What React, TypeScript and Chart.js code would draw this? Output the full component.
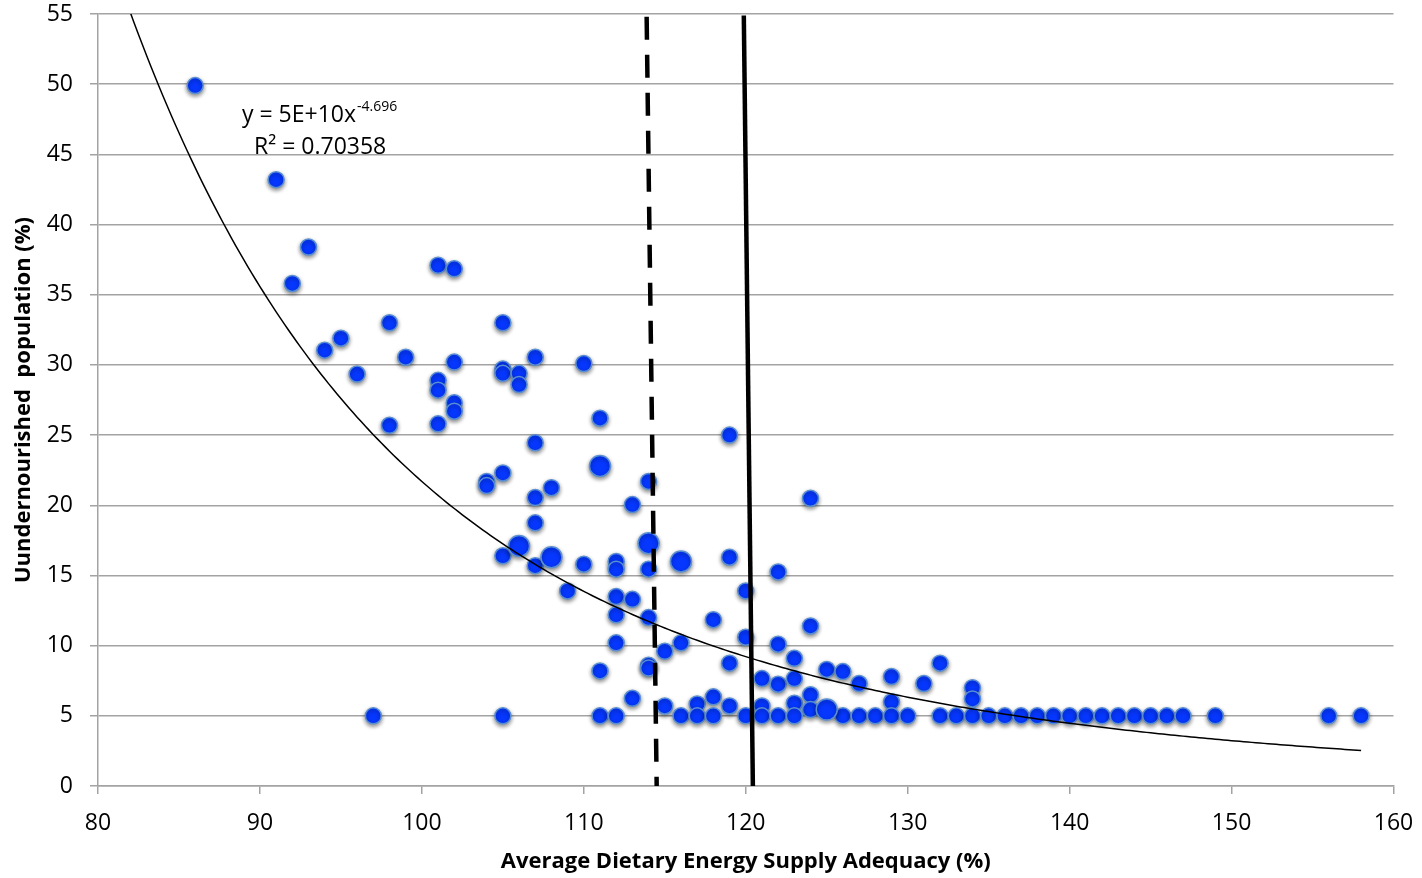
import React, { useEffect, useRef } from "react";
import { Chart, registerables } from "chart.js";

Chart.register(...registerables);

// ---- Data ----
const adequacy = [
  86, 91, 93, 92, 101, 102, 98, 105, 95, 94, 99, 102, 107, 110, 96, 105, 105, 106, 106, 101,
  101, 102, 102, 98, 101, 107, 111, 114, 105, 104, 104, 108, 107, 113, 107, 119, 124, 105, 110, 112,
  112, 114, 119, 122, 107, 109, 112, 113, 120, 112, 114, 118, 124, 112, 120, 116, 122, 115, 123, 119,
  114, 114, 111, 121, 122, 123, 125, 126, 127, 129, 131, 132, 134, 134, 129, 113, 115, 117, 118, 119,
  121, 123, 124, 124,
  97, 105, 111, 112, 116, 117, 118, 120, 121, 122, 123, 126, 127, 128, 129, 130, 132, 133, 134, 135,
  136, 137, 138, 139, 140, 141, 142, 143, 144, 145, 146, 147, 149, 156, 158,
];
const undernourished = [
  49.9, 43.2, 38.4, 35.8, 37.1, 36.85, 33.0, 33.0, 31.9, 31.05, 30.55, 30.2, 30.55, 30.1, 29.35, 29.7, 29.4, 29.4, 28.6, 28.9,
  28.2, 27.3, 26.7, 25.7, 25.8, 24.45, 26.2, 21.7, 22.3, 21.7, 21.4, 21.25, 20.55, 20.05, 18.75, 25.0, 20.5, 16.4, 15.8, 16.0,
  15.45, 15.45, 16.3, 15.25, 15.7, 13.9, 13.5, 13.3, 13.9, 12.2, 12.0, 11.85, 11.4, 10.2, 10.6, 10.2, 10.1, 9.6, 9.1, 8.75,
  8.6, 8.4, 8.2, 7.65, 7.25, 7.65, 8.3, 8.15, 7.3, 7.8, 7.3, 8.75, 7.0, 6.2, 6.0, 6.25, 5.7, 5.85, 6.35, 5.7,
  5.7, 5.9, 6.5, 5.45,
  5, 5, 5, 5, 5, 5, 5, 5, 5, 5, 5, 5, 5, 5, 5, 5, 5, 5, 5, 5,
  5, 5, 5, 5, 5, 5, 5, 5, 5, 5, 5, 5, 5, 5, 5,
];
// points where several countries coincide (drawn as larger markers)
const stackedAdequacy = [111, 114, 106, 108, 116, 125];
const stackedUndernourished = [22.8, 17.3, 17.1, 16.3, 16.0, 5.45];

// power trend line y = a * x^b
const TREND_A = 5.35e10;
const TREND_B = -4.696;
const TREND_X_START = 81.5;
const TREND_X_END = 158;

// threshold lines (two end points each)
const dashedLineX = [113.88, 114.5];
const dashedLineY = [54.8, 0];
const solidLineX = [119.88, 120.44];
const solidLineY = [54.9, 0];

const xTicks = { min: 80, max: 160, step: 10 };
const yTicks = { min: 0, max: 55, step: 5 };

const EQ_MAIN = "y = 5E+10x";
const EQ_EXP = "-4.696";
const R2_TEXT = "R² = 0.70358";
const X_TITLE = "Average Dietary Energy Supply Adequacy (%)";
const Y_TITLE = "Uundernourished  population (%)";

const FONT = '"Open Sans", "Liberation Sans", sans-serif';

export default function App() {
  const ref = useRef<HTMLCanvasElement>(null);

  useEffect(() => {
    if (!ref.current) return;
    const trend: { x: number; y: number }[] = [];
    for (let x = TREND_X_START; x <= TREND_X_END + 1e-9; x += 0.25) {
      trend.push({ x, y: TREND_A * Math.pow(x, TREND_B) });
    }

    const shadowPlugin = {
      id: "markerShadow",
      beforeDatasetDraw(chart: any, args: any) {
        const ds = chart.data.datasets[args.index];
        if (!ds.shadow) return;
        const ctx = chart.ctx;
        ctx.save();
        ctx.shadowColor = "rgba(0,0,0,0.45)";
        ctx.shadowBlur = 4;
        ctx.shadowOffsetX = 0;
        ctx.shadowOffsetY = 2;
      },
      afterDatasetDraw(chart: any, args: any) {
        const ds = chart.data.datasets[args.index];
        if (!ds.shadow) return;
        chart.ctx.restore();
      },
    };

    const labelPlugin = {
      id: "trendLabel",
      afterDatasetsDraw(chart: any) {
        const { ctx, chartArea } = chart;
        ctx.save();
        ctx.fillStyle = "#000";
        ctx.textBaseline = "alphabetic";
        ctx.textAlign = "left";
        ctx.font = `23px ${FONT}`;
        const x0 = chartArea.left + 144;
        const y0 = chartArea.top + 108;
        ctx.fillText(EQ_MAIN, x0, y0);
        const w = ctx.measureText(EQ_MAIN).width;
        ctx.font = `14px ${FONT}`;
        ctx.fillText(EQ_EXP, x0 + w + 1, y0 - 11);
        ctx.font = `23px ${FONT}`;
        ctx.fillText(R2_TEXT, chartArea.left + 156, chartArea.top + 139.5);
        ctx.restore();
      },
    };

    const pts = adequacy.map((x, i) => ({ x, y: undernourished[i] }));
    const bigPts = stackedAdequacy.map((x, i) => ({ x, y: stackedUndernourished[i] }));

    const chart = new Chart(ref.current, {
      type: "scatter",
      data: {
        datasets: [
          {
            label: "Countries",
            data: pts,
            pointRadius: 8,
            pointHoverRadius: 8,
            pointBackgroundColor: "#0637ff",
            pointBorderColor: "#5a8fd2",
            pointBorderWidth: 1.5,
            order: 4,
            shadow: true,
          } as any,
          {
            label: "Stacked",
            data: bigPts,
            pointRadius: 10.5,
            pointHoverRadius: 10.5,
            pointBackgroundColor: "#0637ff",
            pointBorderColor: "#5a8fd2",
            pointBorderWidth: 1.5,
            order: 3,
            shadow: true,
          } as any,
          {
            label: "Trend",
            data: trend,
            showLine: true,
            pointRadius: 0,
            borderColor: "#000",
            borderWidth: 1.5,
            order: 2,
          },
          {
            label: "Dashed",
            data: dashedLineX.map((x, i) => ({ x, y: dashedLineY[i] })),
            showLine: true,
            pointRadius: 0,
            borderColor: "#000",
            borderWidth: 4.5,
            borderDash: [23, 15],
            order: 1,
          },
          {
            label: "Solid",
            data: solidLineX.map((x, i) => ({ x, y: solidLineY[i] })),
            showLine: true,
            pointRadius: 0,
            borderColor: "#000",
            borderWidth: 4.5,
            order: 1,
          },
        ],
      },
      options: {
        animation: false,
        responsive: true,
        maintainAspectRatio: false,
        layout: { padding: 0 },
        plugins: {
          legend: { display: false },
          tooltip: { enabled: false },
        },
        scales: {
          x: {
            type: "linear",
            min: xTicks.min,
            max: xTicks.max,
            ticks: {
              stepSize: xTicks.step,
              color: "#000",
              font: { family: FONT, size: 23 },
              padding: 16,
            },
            grid: {
              drawOnChartArea: false,
              drawTicks: true,
              tickLength: 8,
              color: "#a3a3a3",
              lineWidth: 1.5,
            },
            border: { display: true, color: "#a3a3a3", width: 1.5 },
            title: {
              display: true,
              text: X_TITLE,
              color: "#000",
              font: { family: FONT, size: 22, weight: "bold" },
              padding: { top: 0, bottom: 3 },
            },
            afterFit(scale: any) {
              scale.height = 92;
              scale.paddingLeft = 0;
              scale.paddingRight = 28.5;
            },
          },
          y: {
            type: "linear",
            min: yTicks.min,
            max: yTicks.max,
            ticks: {
              stepSize: yTicks.step,
              color: "#000",
              font: { family: FONT, size: 23 },
              padding: 17,
            },
            grid: {
              drawTicks: true,
              tickLength: 8,
              color: "#a3a3a3",
              lineWidth: 1.5,
            },
            border: { display: true, color: "#a3a3a3", width: 1.5 },
            title: {
              display: true,
              text: Y_TITLE,
              color: "#000",
              font: { family: FONT, size: 22, weight: "bold" },
              padding: { top: 11, bottom: 0 },
            },
            afterFit(scale: any) {
              scale.width = 98;
              scale.paddingTop = 14;
              scale.paddingBottom = 0;
            },
          },
        },
      },
      plugins: [shadowPlugin, labelPlugin],
    } as any);

    return () => chart.destroy();
  }, []);

  return (
    <div style={{ position: "absolute", left: 0, top: 0, width: 1422, height: 878, background: "#fff" }}>
      <canvas ref={ref} />
    </div>
  );
}
